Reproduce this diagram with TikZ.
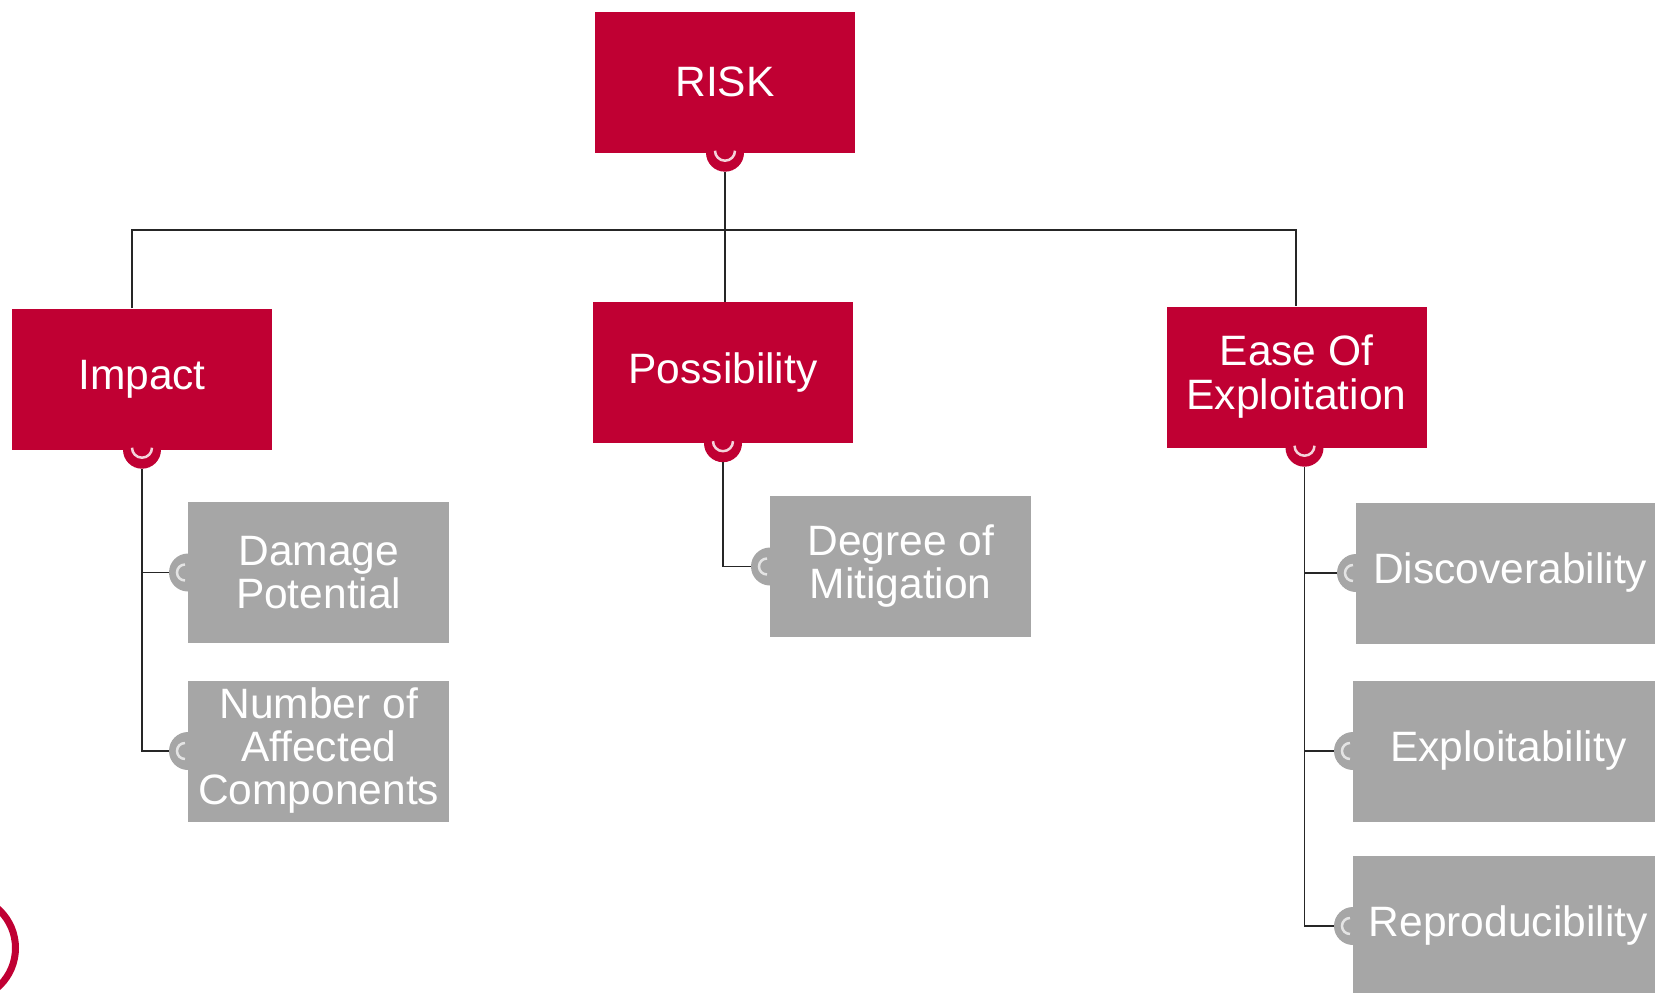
\documentclass[tikz,border=0pt]{standalone}
\usepackage{fontspec}
\setmainfont{Liberation Sans}
\definecolor{rred}{HTML}{C00033}
\definecolor{rgrey}{HTML}{A6A6A6}
\definecolor{rpink}{HTML}{F4D3DB}
\definecolor{rlight}{HTML}{E4E4E4}
\begin{document}
\begin{tikzpicture}[x=1pt,y=-1pt,
  redbox/.style={fill=rred,draw=none,minimum width=260pt,minimum height=141pt,inner sep=0pt,text=white,align=center,font=\fontsize{42.5}{44}\selectfont},
  greybox/.style={fill=rgrey,draw=none,minimum width=261pt,minimum height=141pt,inner sep=0pt,text=white,align=center,font=\fontsize{42.5}{43}\selectfont},
  redcirc/.style={circle,fill=rred,draw=none,minimum size=38pt,inner sep=0pt},
  greycirc/.style={circle,fill=rgrey,draw=none,minimum size=38pt,inner sep=0pt},
  conn/.style={draw=black!85,line width=1.3pt},
  uarc/.style={draw=rpink,line width=2.5pt},
  carc/.style={draw=rlight,line width=2.5pt}]
\useasboundingbox (0,0) rectangle (1655,993);
\path[clip] (0,0) rectangle (1655,993);
\fill[white] (0,0) rectangle (1655,993);
% top-level and second-level red boxes
\node[redbox] (risk) at (725,82) {RISK};
\node[redbox] (impact) at (142,379) {Impact};
\node[redbox] (poss) at (723,372.5) {Possibility};
\node[redbox] (ease) at (1296.5,377) {Ease Of\\Exploitation};
% red connector circles
\node[redcirc] (risk-c) at (risk.south) {};
\node[redcirc] (imp-c) at (impact.south) {};
\node[redcirc] (pos-c) at (poss.south) {};
\node[redcirc] (ease-c) at ([xshift=8pt]ease.south) {};
\foreach \c in {risk-c,imp-c,pos-c,ease-c}{
  \draw[uarc] ([yshift=2pt]\c.center) ++(-10,0) arc[start angle=180,end angle=360,radius=10pt];
}
% grey child boxes: circles first
\coordinate (dmg-w) at (188,572.5);
\coordinate (num-w) at (188,751);
\coordinate (deg-w) at (770,566.5);
\coordinate (dis-w) at (1356,573);
\coordinate (exp-w) at (1353,751);
\coordinate (rep-w) at (1353,926);
\node[greycirc] (dmg-c) at (dmg-w) {};
\node[greycirc] (num-c) at (num-w) {};
\node[greycirc] (deg-c) at (deg-w) {};
\node[greycirc] (dis-c) at (dis-w) {};
\node[greycirc] (exp-c) at (exp-w) {};
\node[greycirc] (rep-c) at (rep-w) {};
\foreach \c in {dmg-c,num-c,deg-c,dis-c,exp-c,rep-c}{
  \draw[carc] ([xshift=-3pt]\c.center) ++(0,-8) arc[start angle=90,end angle=270,radius=8pt];
}
\node[greybox,anchor=west] (dmg) at (dmg-w) {Damage\\Potential};
\node[greybox,anchor=west] (num) at (num-w) {Number of\\Affected\\Components};
\node[greybox,anchor=west] (deg) at (deg-w) {Degree of\\Mitigation};
\node[greybox,anchor=west,minimum width=308pt] (dis) at (dis-w) {Discoverability};
\node[greybox,anchor=west,minimum width=310pt] (exp) at (exp-w) {Exploitability};
\node[greybox,anchor=west,minimum width=310pt] (rep) at (rep-w) {Reproducibility};
% connectors
\coordinate (busL) at (132,230);
\coordinate (busR) at (1296,230);
\draw[conn] (risk-c.south) -- (risk-c.south |- poss.north);
\draw[conn] (impact.north -| busL) -- (busL) -- (busR) -- (ease.north -| busR);
\draw[conn] (imp-c.south) -- (imp-c.south |- num-c.west) -- (num-c.west);
\draw[conn] (imp-c.south |- dmg-c.west) -- (dmg-c.west);
\draw[conn] (pos-c.south) -- (pos-c.south |- deg-c.west) -- (deg-c.west);
\draw[conn] (ease-c.south) -- (ease-c.south |- rep-c.west) -- (rep-c.west);
\draw[conn] (ease-c.south |- dis-c.west) -- (dis-c.west);
\draw[conn] (ease-c.south |- exp-c.west) -- (exp-c.west);
% partial red ring at bottom-left
\draw[rred,line width=7pt] (-37,948) circle[radius=52.5pt];
\end{tikzpicture}
\end{document}
